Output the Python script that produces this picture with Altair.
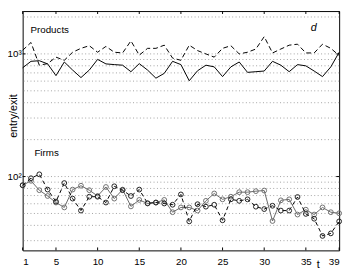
import altair as alt
import pandas as pd

t = list(range(1, 40))

products_solid = [770, 870, 880, 829, 665, 859, 738, 641, 738, 902, 829, 818, 809, 716, 833,
                  738, 634, 694, 870, 818, 604, 729, 809, 784, 653, 784, 859, 707, 716, 725,
                  870, 809, 716, 818, 799, 725, 653, 784, 1032]
products_dashed = [1070, 1239, 809, 833, 941, 887, 1032, 1110, 1166, 1032, 1151, 1032, 1018, 1277, 977,
                   1110, 1110, 1178, 924, 887, 1178, 1064, 1000, 941, 1110, 1166, 1000, 1032, 1096, 1382,
                   1018, 1096, 1178, 1200, 1018, 1018, 1200, 1110, 970]
firms_solid = [84.9, 92.3, 77.4, 69.4, 61.4, 56.0, 78.3, 84.2, 77.4, 69.4, 82.2, 66.1, 78.3, 57.1, 64.5,
               60.3, 61.4, 64.5, 51.2, 56.0, 56.0, 52.8, 63.4, 72.8, 65.2, 68.5, 74.6, 74.6, 76.0, 76.9,
               43.4, 64.0, 65.2, 49.0, 53.7, 49.0, 56.0, 51.2, 50.2]
firms_dashed = [84.9, 96.9, 104.3, 78.3, 62.5, 88.5, 66.1, 52.8, 68.5, 68.5, 61.4, 83.3, 77.4, 69.4, 78.3,
                60.6, 61.4, 60.3, 58.9, 71.5, 43.1, 59.5, 56.8, 58.9, 44.0, 65.2, 63.4, 65.2, 56.8, 54.3,
                57.8, 52.8, 52.8, 68.1, 49.6, 45.3, 32.8, 34.4, 43.1]

x_ticks = [1, 5, 10, 15, 20, 25, 30, 35, 39]
y_ticks = [100, 1000]
grid_values = [30, 40, 50, 60, 70, 80, 90, 100, 200, 300, 400, 500, 600, 700, 800, 900, 1000, 2000]

labels_text = ["Products", "Firms"]
labels_t = [1.94, 2.41]
labels_v = [1563, 156]
panel_letter = ["d"]
panel_t = [35.6]
panel_v = [1630]

FONT = "Liberation Sans"
W, H = 324, 245

xs = alt.Scale(domain=[1, 39], nice=False, zero=False)
ys = alt.Scale(type="log", domain=[25, 2235], nice=False)

x_enc = alt.X("t:Q", scale=xs, axis=alt.Axis(
    values=x_ticks, title="t", grid=False, ticks=False, domain=False,
    labelFontSize=10, labelPadding=6, labelFont=FONT, labelColor="black",
    titleFont=FONT, titleFontSize=11, titleFontWeight="normal", titleColor="black",
    titleX=302, titleY=18, titleBaseline="alphabetic", titleAlign="center"))
y_enc = alt.Y("v:Q", scale=ys, axis=alt.Axis(
    values=y_ticks, title="entry/exit", grid=False, ticks=False, domain=False,
    labelExpr="datum.value == 1000 ? '10³' : (datum.value == 100 ? '10²' : '')",
    labelFontSize=10, labelPadding=1.5, labelFont=FONT, labelColor="black",
    titleFont=FONT, titleFontSize=11, titleFontWeight="normal", titleColor="black",
    titleX=-6.5, titleY=107, titleBaseline="alphabetic", titleAlign="center", titleAngle=270))

grid_df = pd.DataFrame({"v": grid_values})
grid = alt.Chart(grid_df).mark_rule(color="#8a8a8a", strokeDash=[1, 2.5], strokeWidth=0.8).encode(
    y=y_enc)

ps = pd.DataFrame({"t": t, "v": products_solid})
pd_ = pd.DataFrame({"t": t, "v": products_dashed})
fs = pd.DataFrame({"t": t, "v": firms_solid})
fd = pd.DataFrame({"t": t, "v": firms_dashed})

l_ps = alt.Chart(ps).mark_line(color="black", strokeWidth=1).encode(x=x_enc, y="v:Q")
l_pd = alt.Chart(pd_).mark_line(color="black", strokeWidth=1, strokeDash=[5, 3]).encode(x="t:Q", y="v:Q")
l_fs = alt.Chart(fs).mark_line(color="#666666", strokeWidth=1).encode(x="t:Q", y="v:Q")
p_fs = alt.Chart(fs).mark_point(shape="circle", filled=False, color="#707070", size=24, strokeWidth=1, opacity=1).encode(x="t:Q", y="v:Q")
l_fd = alt.Chart(fd).mark_line(color="black", strokeWidth=1, strokeDash=[4, 3]).encode(x="t:Q", y="v:Q")
p_fd = alt.Chart(fd).mark_point(shape="circle", filled=False, color="#222222", size=24, strokeWidth=1, opacity=1).encode(x="t:Q", y="v:Q")

lab_df = pd.DataFrame({"t": labels_t, "v": labels_v, "txt": labels_text})
labels = alt.Chart(lab_df).mark_text(align="left", baseline="middle", font=FONT, fontSize=10, color="black").encode(
    x="t:Q", y="v:Q", text="txt:N")
let_df = pd.DataFrame({"t": panel_t, "v": panel_v, "txt": panel_letter})
letter = alt.Chart(let_df).mark_text(align="left", baseline="middle", font=FONT, fontSize=11,
                                     fontStyle="italic", color="black").encode(x="t:Q", y="v:Q", text="txt:N")

xt_df = pd.DataFrame({"t": x_ticks})
ticks_bottom = alt.Chart(xt_df).mark_rule(color="black", strokeWidth=1).encode(
    x="t:Q", y=alt.value(H), y2=alt.value(H - 3))
ticks_top = alt.Chart(xt_df).mark_rule(color="black", strokeWidth=1).encode(
    x="t:Q", y=alt.value(0), y2=alt.value(3))
yt_df = pd.DataFrame({"v": y_ticks})
ticks_left = alt.Chart(yt_df).mark_rule(color="black", strokeWidth=1).encode(
    y="v:Q", x=alt.value(0), x2=alt.value(3))
ticks_right = alt.Chart(yt_df).mark_rule(color="black", strokeWidth=1).encode(
    y="v:Q", x=alt.value(W), x2=alt.value(W - 3))

chart = alt.layer(
    grid, l_ps, l_pd, l_fs, p_fs, l_fd, p_fd, labels, letter,
    ticks_bottom, ticks_top, ticks_left, ticks_right
).properties(
    width=W, height=H,
    autosize=alt.AutoSizeParams(type="none"),
    padding={"left": 15, "top": 0, "right": 7, "bottom": 20},
    background="white",
).configure_view(stroke="black", strokeWidth=1)

chart.save("out.html", embed_options={"renderer": "svg", "actions": False})
